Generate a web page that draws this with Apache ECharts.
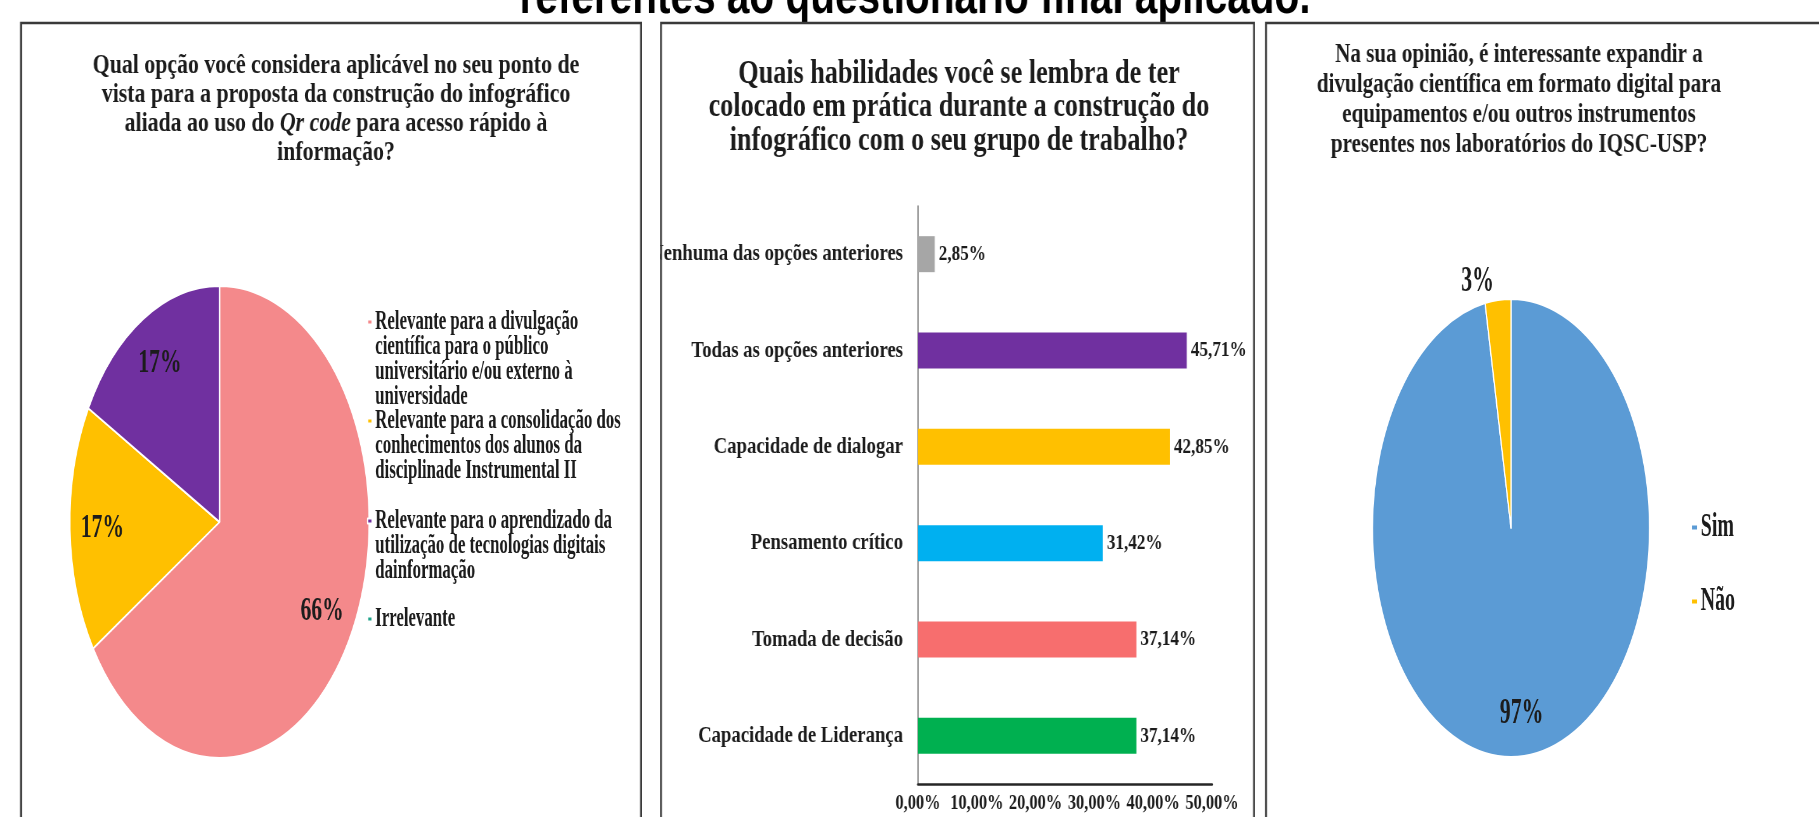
<!DOCTYPE html>
<html>
<head>
<meta charset="utf-8">
<script src="https://cdn.jsdelivr.net/npm/echarts@6/dist/echarts.min.js"></script>
<style>
  html, body { margin: 0; padding: 0; width: 1819px; height: 817px; overflow: hidden; background: #fff; }
  .layer { position: absolute; left: 0; top: 0; height: 817px; transform-origin: 0 0; }
</style>
</head>
<body>
<div id="main" class="layer"></div>
<div id="pie1" class="layer"></div>
<div id="pie3" class="layer"></div>
<script>
// ---- data ----
const pageTitle = 'referentes ao questionário final aplicado.';

const q1TitleLines = [
  'Qual opção você considera aplicável no seu ponto de',
  'vista para a proposta da construção do infográfico',
  'aliada ao uso do {i|Qr code} para acesso rápido à',
  'informação?'
];
const q1Categories = [
  'Relevante para a divulgação\ncientífica para o público\nuniversitário e/ou externo à\nuniversidade',
  'Relevante para a consolidação dos\nconhecimentos dos alunos da\ndisciplinade Instrumental II',
  'Relevante para o aprendizado da\nutilização de tecnologias digitais\ndainformação',
  'Irrelevante'
];
const q1Values = [66, 17, 17, 0];

const q2TitleLines = [
  'Quais habilidades você se lembra de ter',
  'colocado em prática durante a construção do',
  'infográfico com o seu grupo de trabalho?'
];
const q2Categories = [
  'Nenhuma das opções anteriores',
  'Todas as opções anteriores',
  'Capacidade de dialogar',
  'Pensamento crítico',
  'Tomada de decisão',
  'Capacidade de Liderança'
];
const q2Values = [2.85, 45.71, 42.85, 31.42, 37.14, 37.14];
const q2AxisMax = 50;
const q2AxisStep = 10;

const q3TitleLines = [
  'Na sua opinião, é interessante expandir a',
  'divulgação científica em formato digital para',
  'equipamentos e/ou outros instrumentos',
  'presentes nos laboratórios do IQSC-USP?'
];
const q3Categories = ['Sim', 'Não'];
const q3Values = [97, 3];

// ---- styles ----
const q1Colors = ['#F4898B', '#FFC000', '#7030A0', '#1FA38A'];
const q2Colors = ['#A6A6A6', '#7030A0', '#FFC000', '#00B0F0', '#F76E6E', '#00B050'];
const q3Colors = ['#5B9BD5', '#FFC000'];
const SERIF = "'Liberation Serif', 'Times New Roman', serif";
const INK = '#1c1c1c';

// each layer is drawn wide and squeezed horizontally into the page
const PAGE_W = 1819;
const TEXT_SQUEEZE = 0.78;
const PIE1_SQUEEZE = 0.634;
const PIE3_SQUEEZE = 0.605;
const tx = x => x / TEXT_SQUEEZE;

function squeezeLayer(id, k) {
  const el = document.getElementById(id);
  el.style.width = (PAGE_W / k) + 'px';
  el.style.transform = 'scaleX(' + k + ')';
  return el;
}

const pct2 = v => v.toFixed(2).replace('.', ',') + '%';

function panelFrame(x0, x1) {
  return {
    type: 'rect', silent: true, z: 60,
    shape: { x: tx(x0), y: 23, width: tx(x1) - tx(x0), height: 900 },
    style: { fill: 'none', stroke: '#3a3a3a', lineWidth: 2.4 }
  };
}

function gutter(x0, x1) {
  return {
    type: 'rect', silent: true, z: 50,
    shape: { x: tx(x0), y: 24, width: tx(x1) - tx(x0), height: 800 },
    style: { fill: '#fff' }
  };
}

function titleBlock(lines, cx, firstLineY, size, lh) {
  return {
    text: lines.join('\n'),
    left: tx(cx), top: firstLineY - lh / 2, textAlign: 'center', padding: 0,
    textStyle: {
      fontFamily: SERIF, fontWeight: 'bold', fontSize: size, lineHeight: lh, color: INK,
      rich: { i: { fontFamily: SERIF, fontWeight: 'bold', fontStyle: 'italic', fontSize: size, lineHeight: lh, color: INK } }
    }
  };
}

const mainChart = echarts.init(squeezeLayer('main', TEXT_SQUEEZE));
mainChart.setOption({
  backgroundColor: '#fff',
  animation: false,
  graphic: [
    {
      type: 'text', silent: true, x: tx(915), y: -1,
      style: { text: pageTitle, font: "bold 52px 'Liberation Sans', Arial, sans-serif", fill: '#000', align: 'center', verticalAlign: 'middle' }
    },
    gutter(0, 20),
    gutter(642, 660),
    gutter(1255, 1265),
    panelFrame(21, 641),
    panelFrame(661, 1254),
    panelFrame(1266, 1900)
  ],
  title: [
    titleBlock(q1TitleLines, 336, 66, 28, 29),
    titleBlock(q2TitleLines, 959, 74, 33.5, 33.5),
    titleBlock(q3TitleLines, 1519, 55.5, 27, 30)
  ],
  grid: { left: tx(918), top: 206, width: tx(1212) - tx(918), height: 578, containLabel: false },
  xAxis: {
    type: 'value', min: 0, max: q2AxisMax, interval: q2AxisStep,
    axisLine: { show: true, lineStyle: { color: '#262626', width: 2.5 } },
    axisTick: { show: false },
    splitLine: { show: false },
    axisLabel: { formatter: pct2, fontFamily: SERIF, fontWeight: 'bold', fontSize: 21, color: INK, margin: 9, hideOverlap: false }
  },
  yAxis: {
    type: 'category', inverse: true, data: q2Categories,
    axisLine: { show: true, lineStyle: { color: '#7f7f7f', width: 1.6 } },
    axisTick: { show: false },
    axisLabel: { fontFamily: SERIF, fontWeight: 'bold', fontSize: 24, color: INK, margin: tx(15) }
  },
  series: [{
    type: 'bar', silent: true, barWidth: 36,
    data: q2Values.map((v, i) => ({ value: v, itemStyle: { color: q2Colors[i] } })),
    label: {
      show: true, position: 'right', distance: tx(4), formatter: p => pct2(p.value),
      fontFamily: SERIF, fontWeight: 'bold', fontSize: 22, color: INK
    }
  }]
});

// ---- pies ----
const pieLabelFmt = p => (p.value > 0 ? Math.round(p.percent) + '%' : '');

function pieData(names, values, colors, withColor) {
  return names.map((name, i) => ({
    name: name, value: values[i],
    itemStyle: withColor ? { color: colors[i] } : { color: 'rgba(0,0,0,0)', borderWidth: 0 }
  }));
}

// a filled pie plus a transparent ring carrying the percentage labels
function pieWithLabels(center, r, labelRingInner, names, values, colors, labelSize) {
  return [
    {
      type: 'pie', silent: true, center: center, radius: [0, r], startAngle: 90, clockwise: true,
      avoidLabelOverlap: false, label: { show: false }, labelLine: { show: false },
      itemStyle: { borderColor: '#fff', borderWidth: 2 },
      data: pieData(names, values, colors, true)
    },
    {
      type: 'pie', silent: true, center: center, radius: [labelRingInner * r, r], startAngle: 90, clockwise: true,
      avoidLabelOverlap: false,
      label: { show: true, position: 'inside', formatter: pieLabelFmt, fontFamily: SERIF, fontWeight: 'bold', fontSize: labelSize, color: INK },
      labelLine: { show: false, length: 18, length2: 0 },
      data: pieData(names, values, colors, false).map(d =>
        d.value > 0 && d.value < 5 ? Object.assign(d, { label: { position: 'outside' } }) : d)
    }
  ];
}

// q1: one legend block per entry, the marker sitting on the first text line
const k1 = PIE1_SQUEEZE;
const LEG_LH = 25;
const legendFirstLine = [321, 420, 520, 618];
const q1Legends = q1Categories.map((name, i) => {
  const n = name.split('\n').length;
  return {
    data: [name], orient: 'vertical', left: 367 / k1, top: legendFirstLine[i] - (2 * n - 1) * LEG_LH / 2,
    padding: 0, itemWidth: 7, itemHeight: 5, selectedMode: false, icon: 'rect',
    formatter: nm => '\n'.repeat(n - 1) + nm,
    textStyle: {
      fontFamily: SERIF, fontWeight: 'bold', fontSize: 26.5, lineHeight: LEG_LH, color: INK,
      backgroundColor: 'rgba(0,0,0,0)'
    }
  };
});

const pie1Chart = echarts.init(squeezeLayer('pie1', k1));
pie1Chart.setOption({
  animation: false,
  legend: q1Legends,
  series: pieWithLabels([219.5 / k1, 522], 236, 0.54, q1Categories, q1Values, q1Colors, 34)
});

const k3 = PIE3_SQUEEZE;
const pie3Chart = echarts.init(squeezeLayer('pie3', k3));
pie3Chart.setOption({
  animation: false,
  legend: {
    data: q3Categories, orient: 'vertical', left: 1691 / k3, top: 511, itemGap: 41,
    padding: 0, itemWidth: 10, itemHeight: 6, selectedMode: false, icon: 'rect',
    textStyle: { fontFamily: SERIF, fontWeight: 'bold', fontSize: 33, lineHeight: 33, color: INK }
  },
  series: pieWithLabels([1511 / k3, 528], 229, 0.6, q3Categories, q3Values, q3Colors, 36)
});
</script>
</body>
</html>
